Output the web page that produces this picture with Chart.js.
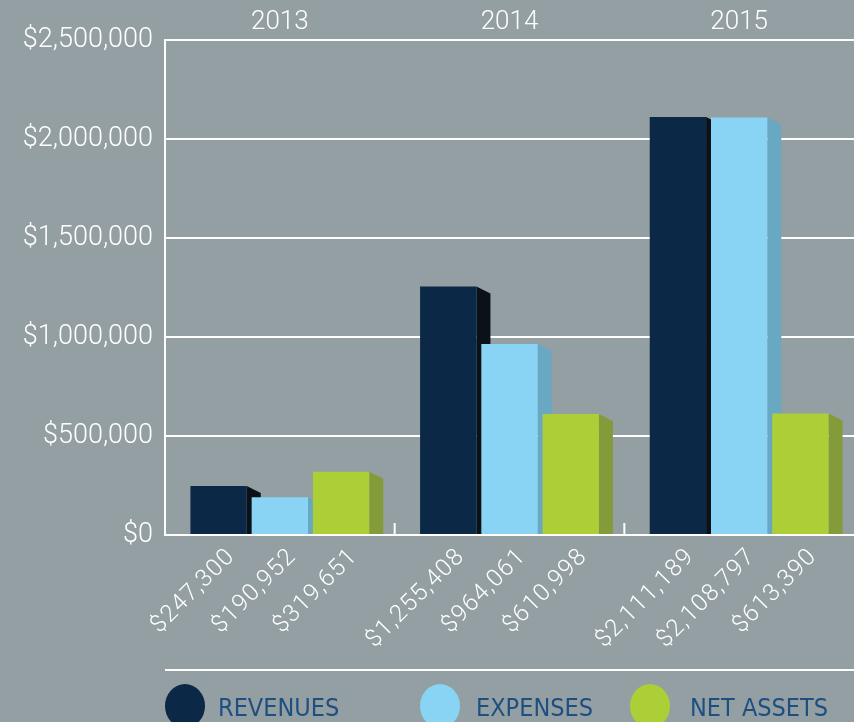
<!DOCTYPE html>
<html>
<head>
<meta charset="utf-8">
<script src="https://cdn.jsdelivr.net/npm/chart.js@4.4.1/dist/chart.umd.min.js"></script>
<style>
  html, body { margin: 0; padding: 0; background: #939fa2; }
  #wrap { width: 854px; height: 722px; }
</style>
</head>
<body>
<div id="wrap"><canvas id="c" width="854" height="722"></canvas></div>
<script>
// ── data ──────────────────────────────────────────────────────────────
const years     = ['2013', '2014', '2015'];
const revenues  = [247300, 1255408, 2111189];
const expenses  = [190952, 964061, 2108797];
const netAssets = [319651, 610998, 613390];
const yTicks    = [0, 500000, 1000000, 1500000, 2000000, 2500000];
const seriesNames = ['REVENUES', 'EXPENSES', 'NET ASSETS'];

// front / side colours per series
const fronts = ['#0b2846', '#89d4f4', '#accf38'];
const sides  = ['#0a1217', '#69a8c3', '#849b3a'];

const FONT = "'Roboto', 'Liberation Sans', sans-serif";
const money = v => '$' + Math.round(v).toLocaleString('en-US');

// 3D side faces, drawn before the fronts so the next bar covers them
const sidePlugin = {
  id: 'sides',
  beforeDatasetsDraw(chart) {
    const ctx = chart.ctx;
    const depth = 14, rise = 7;
    chart.data.datasets.forEach((ds, di) => {
      chart.getDatasetMeta(di).data.forEach(el => {
        const r = el.x + el.width / 2;
        ctx.save();
        ctx.fillStyle = sides[di];
        ctx.beginPath();
        ctx.moveTo(r, el.y);
        ctx.lineTo(r + depth, el.y + rise);
        ctx.lineTo(r + depth, el.base);
        ctx.lineTo(r, el.base);
        ctx.closePath();
        ctx.fill();
        ctx.restore();
      });
    });
  }
};

// rotated value labels, boundary ticks, bottom rule and legend
const decoPlugin = {
  id: 'deco',
  afterDraw(chart) {
    const ctx = chart.ctx;
    const ca = chart.chartArea;
    const xs = chart.scales.x;

    // little up-ticks between the year groups
    ctx.save();
    ctx.strokeStyle = '#ffffff';
    ctx.lineWidth = 2;
    for (let i = 1; i < years.length; i++) {
      const bx = (xs.getPixelForValue(i - 1) + xs.getPixelForValue(i)) / 2;
      ctx.beginPath();
      ctx.moveTo(bx, ca.bottom);
      ctx.lineTo(bx, ca.bottom - 12);
      ctx.stroke();
    }
    ctx.restore();

    // value labels
    ctx.save();
    ctx.fillStyle = '#ffffff';
    ctx.font = '300 24px ' + FONT;
    ctx.letterSpacing = '1.3px';
    ctx.textAlign = 'right';
    ctx.textBaseline = 'middle';
    chart.data.datasets.forEach((ds, di) => {
      chart.getDatasetMeta(di).data.forEach((el, i) => {
        ctx.save();
        ctx.translate(el.x + 13, ca.bottom + 18);
        ctx.rotate(-Math.PI / 4);
        ctx.fillText(money(ds.data[i]), 0, 0);
        ctx.restore();
      });
    });
    ctx.restore();

    // bottom rule
    ctx.save();
    ctx.strokeStyle = '#ffffff';
    ctx.lineWidth = 2;
    ctx.beginPath();
    ctx.moveTo(ca.left, 670);
    ctx.lineTo(chart.width, 670);
    ctx.stroke();

    // legend
    const lx = [185, 440, 650];
    const tx = [218, 476, 690];
    ctx.font = "25px 'Liberation Sans Narrow', 'DejaVu Sans Condensed', sans-serif";
    ctx.textAlign = 'left';
    ctx.textBaseline = 'alphabetic';
    seriesNames.forEach((name, i) => {
      ctx.fillStyle = fronts[i];
      ctx.beginPath();
      ctx.ellipse(lx[i], 706, 20, 22, 0, 0, Math.PI * 2);
      ctx.fill();
      ctx.fillStyle = '#1d4f80';
      ctx.fillText(name, tx[i], 716);
    });
    ctx.restore();
  }
};

const mkSet = (label, data, i) => ({
  label, data,
  backgroundColor: fronts[i],
  borderWidth: 0,
  categoryPercentage: 0.8,
  barPercentage: 0.92,
  xAxisID: 'x'
});

new Chart(document.getElementById('c'), {
  type: 'bar',
  data: {
    labels: years,
    datasets: [
      mkSet(seriesNames[0], revenues, 0),
      mkSet(seriesNames[1], expenses, 1),
      mkSet(seriesNames[2], netAssets, 2)
    ]
  },
  options: {
    responsive: false,
    animation: false,
    layout: { padding: { left: 0, right: 0, top: 0, bottom: 187 } },
    plugins: { legend: { display: false }, tooltip: { enabled: false } },
    scales: {
      x: {
        type: 'category',
        position: 'bottom',
        grid: { display: false },
        border: { display: false },
        ticks: { display: false },
        afterFit: s => { s.height = 0; }
      },
      x2: {
        type: 'category',
        position: 'top',
        labels: years,
        offset: true,
        grid: { display: false, drawTicks: false },
        border: { display: false },
        ticks: { color: '#ffffff', font: { family: FONT, size: 26, weight: '300' }, padding: 2 },
        afterFit: s => { s.height = 40; }
      },
      y: {
        min: 0,
        max: 2500000,
        afterBuildTicks: s => { s.ticks = yTicks.map(v => ({ value: v })); },
        grid: { color: '#ffffff', lineWidth: 2, drawTicks: false },
        border: { display: true, color: '#ffffff', width: 2 },
        ticks: {
          color: '#ffffff',
          padding: 12,
          font: { family: FONT, size: 27, weight: '300' },
          callback: v => money(v)
        },
        afterFit: s => { s.width = 165; }
      }
    }
  },
  plugins: [sidePlugin, decoPlugin]
});
</script>
</body>
</html>
